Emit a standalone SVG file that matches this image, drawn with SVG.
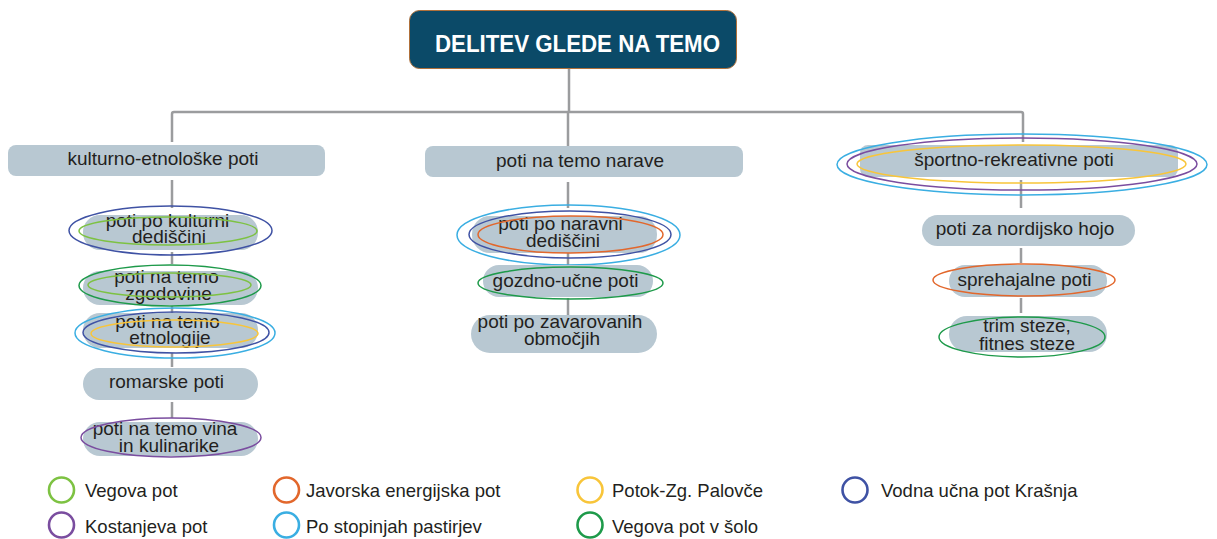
<svg xmlns="http://www.w3.org/2000/svg" width="1217" height="539" viewBox="0 0 1217 539">
<style>
.t{font-family:"Liberation Sans",Arial,sans-serif;font-size:19px;fill:#231f20;text-anchor:middle}
.lg{font-family:"Liberation Sans",Arial,sans-serif;font-size:18.5px;fill:#231f20}
.box{fill:#b8c8d2}
.ln{stroke:#9b9c9e;stroke-width:2.5;fill:none}
.e{fill:none;stroke-width:1.5}
.lc{fill:none;stroke-width:2.6}
.vg{stroke:#7dc242}.dg{stroke:#1e9a4a}.db{stroke:#3f52a4}.lb{stroke:#3aaee2}.pu{stroke:#7a4d9f}.or{stroke:#e2672c}.ye{stroke:#f8c53a}
</style>

<g id="connectors">
<path class="ln" d="M569 69 V112 M172 142 V114 Q172 112 174 112 H1021 Q1023 112 1023 114 V142 M568 112 V146"/>
<path class="ln" d="M172 180 V208 M172 252 V264 M172 306 V314 M172 353 V367 M172 402 V418"/>
<path class="ln" d="M568 182 V208 M568 253 V265 M568 298 V315"/>
<path class="ln" d="M1021 180 V208 M1021 248 V263 M1021 298 V313"/>
</g>

<g id="root">
<rect x="409.5" y="10.5" width="327" height="58" rx="10" fill="#0b4a68" stroke="#b0703a" stroke-width="1"/>
<text x="435" y="52" font-family="Liberation Sans,Arial,sans-serif" font-size="24" font-weight="bold" fill="#ffffff" textLength="285" lengthAdjust="spacingAndGlyphs">DELITEV GLEDE NA TEMO</text>
</g>

<g id="kulturno">
<rect class="box" x="8" y="145" width="317" height="31" rx="8"/>
<text class="t" x="163" y="165">kulturno-etnološke poti</text>
</g>
<g id="narave">
<rect class="box" x="425" y="146" width="318" height="31" rx="8"/>
<text class="t" x="580" y="167">poti na temo narave</text>
</g>
<g id="sportno">
<rect class="box" x="860" y="145" width="318" height="32" rx="8"/>
<text class="t" x="1014" y="166">športno-rekreativne poti</text>
<ellipse class="e lb" cx="1022" cy="164.5" rx="185" ry="30.5"/>
<ellipse class="e pu" cx="1022" cy="164" rx="175" ry="26"/>
<ellipse class="e ye" cx="1021.5" cy="164" rx="164.5" ry="19"/>
</g>

<g id="kulturna-dediscina">
<rect class="box" x="83" y="215" width="175" height="35" rx="17"/>
<text class="t"><tspan x="167.5" y="227">poti po kulturni</tspan><tspan x="169" y="243">dediščini</tspan></text>
<ellipse class="e db" cx="170.5" cy="230.5" rx="101.5" ry="24.5"/>
<ellipse class="e vg" cx="168" cy="231" rx="89" ry="14"/>
</g>
<g id="zgodovina">
<rect class="box" x="83" y="271" width="175" height="34" rx="17"/>
<text class="t"><tspan x="166.5" y="283">poti na temo</tspan><tspan x="168.5" y="300">zgodovine</tspan></text>
<ellipse class="e dg" cx="170" cy="285.5" rx="91" ry="20.5"/>
<ellipse class="e vg" cx="169.5" cy="285" rx="81.5" ry="12"/>
</g>
<g id="etnologija">
<rect class="box" x="83" y="313" width="175" height="35" rx="17"/>
<text class="t"><tspan x="167.5" y="328">poti na temo</tspan><tspan x="170" y="344">etnologije</tspan></text>
<ellipse class="e lb" cx="175" cy="333" rx="100" ry="25"/>
<ellipse class="e db" cx="176" cy="332.5" rx="93" ry="20.5"/>
<ellipse class="e ye" cx="174.5" cy="333.5" rx="83.5" ry="13.5"/>
</g>
<g id="romarske">
<rect class="box" x="83" y="368" width="175" height="32" rx="16"/>
<text class="t" x="166.5" y="388">romarske poti</text>
</g>
<g id="vino">
<rect class="box" x="83" y="422" width="175" height="34" rx="17"/>
<text class="t"><tspan x="165" y="435">poti na temo vina</tspan><tspan x="169" y="452">in kulinarike</tspan></text>
<ellipse class="e pu" cx="171" cy="437.5" rx="90" ry="19.5"/>
</g>

<g id="naravna-dediscina">
<rect class="box" x="472" y="216" width="185" height="37" rx="18"/>
<text class="t"><tspan x="560.5" y="230">poti po naravni</tspan><tspan x="563" y="247">dediščini</tspan></text>
<ellipse class="e lb" cx="568.5" cy="235" rx="111.5" ry="30"/>
<ellipse class="e db" cx="570" cy="234.5" rx="101" ry="23.5"/>
<ellipse class="e or" cx="570.5" cy="234.5" rx="92.5" ry="18.5"/>
</g>
<g id="gozdno">
<rect class="box" x="483" y="265" width="170" height="32" rx="16"/>
<text class="t" x="565.5" y="287">gozdno-učne poti</text>
<ellipse class="e dg" cx="570.5" cy="283" rx="92.5" ry="16"/>
</g>
<g id="zavarovana">
<rect class="box" x="471" y="315" width="186" height="38" rx="19"/>
<text class="t"><tspan x="560" y="328">poti po zavarovanih</tspan><tspan x="562" y="345">območjih</tspan></text>
</g>

<g id="nordijska">
<rect class="box" x="922" y="215" width="213" height="31" rx="15.5"/>
<text class="t" x="1025" y="235">poti za nordijsko hojo</text>
</g>
<g id="sprehajalne">
<rect class="box" x="949" y="265" width="158" height="32" rx="16"/>
<text class="t" x="1024.5" y="286">sprehajalne poti</text>
<ellipse class="e or" cx="1024" cy="280" rx="91" ry="16"/>
</g>
<g id="trim">
<rect class="box" x="949" y="316" width="158" height="36" rx="18"/>
<text class="t"><tspan x="1027" y="332">trim steze,</tspan><tspan x="1027" y="350">fitnes steze</tspan></text>
<ellipse class="e dg" cx="1022" cy="337" rx="83" ry="20"/>
</g>

<g id="legend">
<circle class="lc vg" cx="61.5" cy="490" r="12.5"/><text class="lg" x="85" y="497">Vegova pot</text>
<circle class="lc pu" cx="61.5" cy="525" r="12.5"/><text class="lg" x="85" y="533">Kostanjeva pot</text>
<circle class="lc or" cx="286.5" cy="490" r="12.5"/><text class="lg" x="306" y="497">Javorska energijska pot</text>
<circle class="lc lb" cx="286.5" cy="525" r="12.5"/><text class="lg" x="306" y="533">Po stopinjah pastirjev</text>
<circle class="lc ye" cx="590" cy="490" r="12.5"/><text class="lg" x="612" y="497">Potok-Zg. Palovče</text>
<circle class="lc dg" cx="590" cy="525" r="12.5"/><text class="lg" x="612" y="533">Vegova pot v šolo</text>
<circle class="lc db" cx="855" cy="490" r="12.5"/><text class="lg" x="881" y="497">Vodna učna pot Krašnja</text>
</g>
</svg>
